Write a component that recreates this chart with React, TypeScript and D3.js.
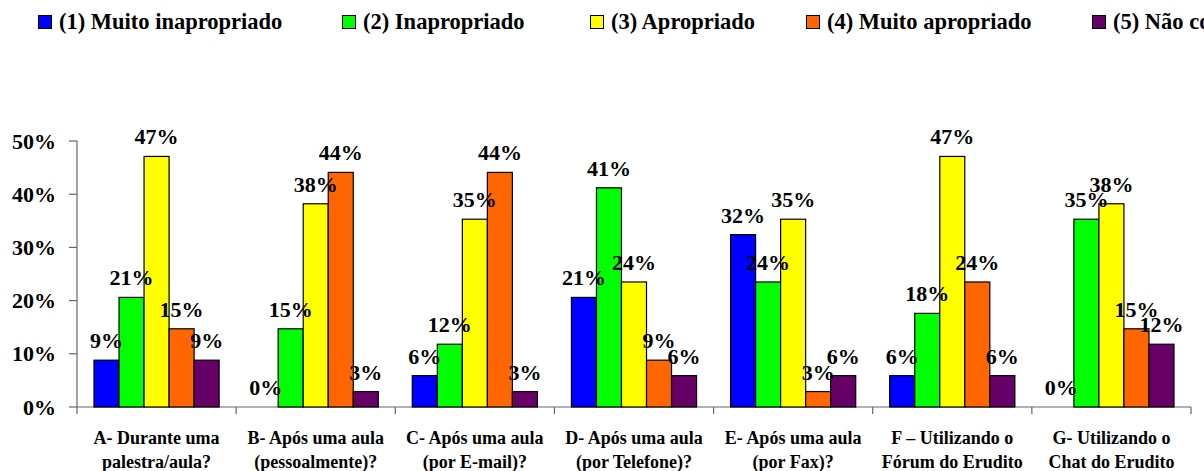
import React from 'react';
import * as d3 from 'd3';

// categorias (duas linhas cada)
const categoryLine1 = [
  'A- Durante uma',
  'B- Após uma aula',
  'C- Após uma aula',
  'D- Após uma aula',
  'E- Após uma aula',
  'F – Utilizando o',
  'G- Utilizando o',
];
const categoryLine2 = [
  'palestra/aula?',
  '(pessoalmente)?',
  '(por E-mail)?',
  '(por Telefone)?',
  '(por Fax)?',
  'Fórum do Erudito',
  'Chat do Erudito',
];

const seriesNames = [
  '(1) Muito inapropriado',
  '(2) Inapropriado',
  '(3) Apropriado',
  '(4) Muito apropriado',
  '(5) Não conheço',
];
const seriesColors = ['#0000ff', '#00ff00', '#ffff00', '#ff6600', '#660066'];

// valores (%) por série, na ordem das categorias
const muitoInapropriado = [8.8, 0, 5.9, 20.6, 32.4, 5.9, 0];
const inapropriado = [20.6, 14.7, 11.8, 41.2, 23.5, 17.6, 35.3];
const apropriado = [47.1, 38.2, 35.3, 23.5, 35.3, 47.1, 38.2];
const muitoApropriado = [14.7, 44.1, 44.1, 8.8, 2.9, 23.5, 14.7];
const naoConheco = [8.8, 2.9, 2.9, 5.9, 5.9, 5.9, 11.8];

const seriesValues = [muitoInapropriado, inapropriado, apropriado, muitoApropriado, naoConheco];
const yTicks = [0, 10, 20, 30, 40, 50];

const SERIF = 'Liberation Serif';

function T(props: any) {
  const { children, ...rest } = props;
  return (
    <text fontFamily={SERIF} fontWeight="bold" fill="#000" style={{ fontFamily: `'${SERIF}'` }} {...rest}>
      {children}
    </text>
  );
}

export default function App() {
  const width = 1204;
  const height = 471;
  const left = 77;
  const right = 1191;
  const top = 141;
  const bottom = 407;

  const x = d3.scaleBand<number>()
    .domain(d3.range(categoryLine1.length))
    .range([left, right])
    .padding(0);
  const bw = x.bandwidth();
  const inner = d3.scaleBand<number>()
    .domain(d3.range(seriesNames.length))
    .range([17, bw - 17])
    .padding(0);
  const y = d3.scaleLinear().domain([0, 50]).range([bottom, top]);

  // posições da legenda
  const legendX = [38, 342, 590, 806, 1092];

  return (
    <svg width={width} height={height} style={{ position: 'absolute', left: 0, top: 0 }}>
      <style>{`text { font-family: 'Liberation Serif' !important; font-weight: bold; }`}</style>
      <rect width={width} height={height} fill="#fff" />

      {/* Legenda */}
      {seriesNames.map((name, i) => (
        <g key={name} transform={`translate(${legendX[i]},0)`}>
          <rect x={0.5} y={15.5} width={13} height={13} fill={seriesColors[i]} stroke="#000" strokeWidth={1} />
          <T x={21} y={29} fontSize={22.5}>{name}</T>
        </g>
      ))}

      {/* Eixo Y */}
      <line x1={left} x2={left} y1={top} y2={bottom} stroke="#666" strokeWidth={1.2} />
      {yTicks.map(t => (
        <g key={t}>
          <line x1={left - 8} x2={left} y1={y(t)} y2={y(t)} stroke="#666" strokeWidth={1.2} />
          <T x={56} y={y(t) + 7.5} textAnchor="end" fontSize={22}>{t}%</T>
        </g>
      ))}

      {/* Eixo X */}
      <line x1={left} x2={right} y1={bottom} y2={bottom} stroke="#666" strokeWidth={1.2} />
      {d3.range(categoryLine1.length + 1).map(i => {
        const xp = i < categoryLine1.length ? (x(i) as number) : right;
        return <line key={i} x1={xp} x2={xp} y1={bottom} y2={bottom + 7} stroke="#666" strokeWidth={1.2} />;
      })}

      {/* Barras */}
      {categoryLine1.map((_, ci) => (
        <g key={ci} transform={`translate(${x(ci)},0)`}>
          {seriesValues.map((vals, si) => {
            const v = vals[ci];
            const x0 = inner(si) as number;
            return v > 0 ? (
              <rect
                key={si}
                x={x0}
                y={y(v)}
                width={inner.bandwidth()}
                height={bottom - y(v)}
                fill={seriesColors[si]}
                stroke="#000"
                strokeWidth={1.2}
              />
            ) : null;
          })}
          {seriesValues.map((vals, si) => {
            const v = vals[ci];
            const cx = (inner(si) as number) + inner.bandwidth() / 2;
            return (
              <T key={'l' + si} x={cx} y={y(v) - 12} textAnchor="middle" fontSize={22}>
                {Math.round(v)}%
              </T>
            );
          })}
          <T x={bw / 2} y={444} textAnchor="middle" fontSize={18}>{categoryLine1[ci]}</T>
          <T x={bw / 2} y={468} textAnchor="middle" fontSize={18}>{categoryLine2[ci]}</T>
        </g>
      ))}
    </svg>
  );
}
